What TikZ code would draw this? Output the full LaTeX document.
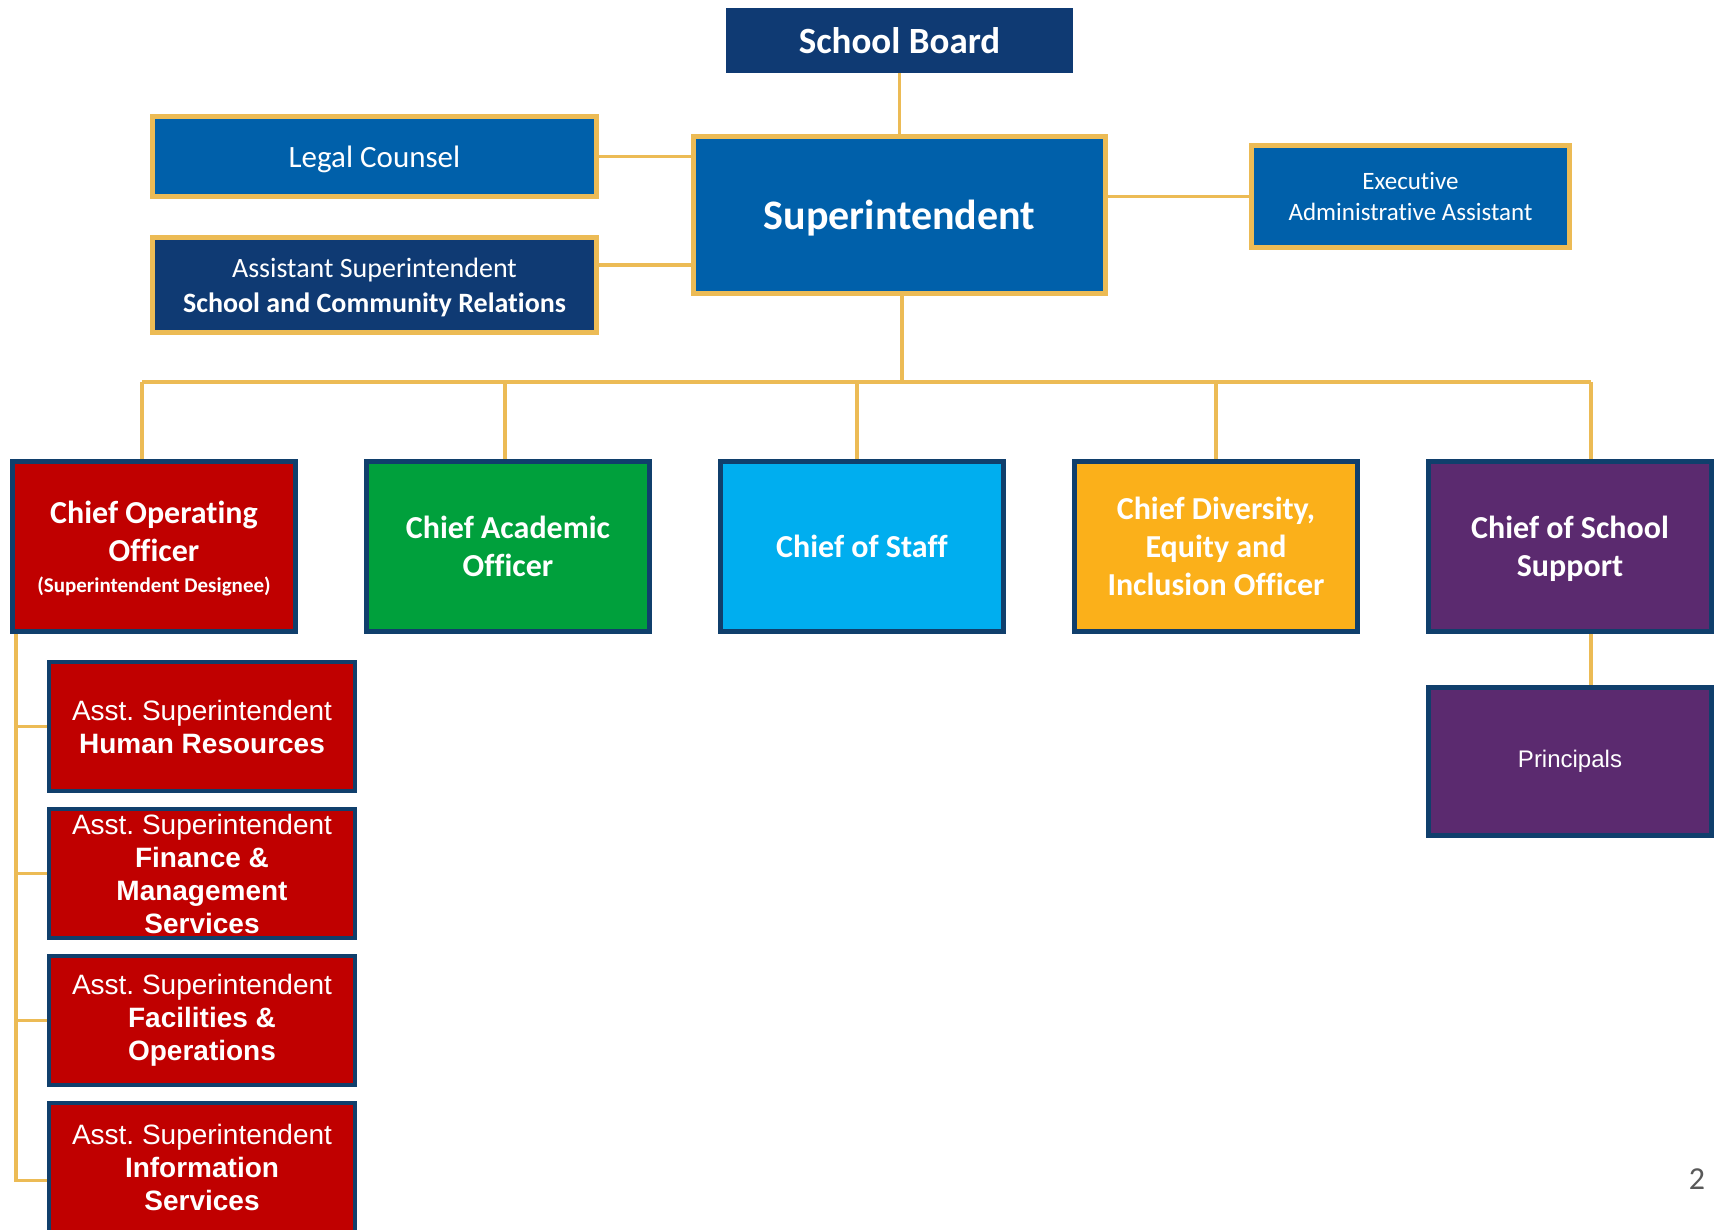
\documentclass[tikz,border=0pt]{standalone}
\usepackage{fontspec}
\setmainfont{Carlito}[Ligatures=NoCommon]
\newfontfamily\arialfont{Liberation Sans}
\usepackage{tikz}
\usetikzlibrary{positioning}
\definecolor{gold}{RGB}{236,187,85}
\definecolor{navy}{RGB}{15,58,115}
\definecolor{supblue}{RGB}{0,96,170}
\definecolor{boxnavy}{RGB}{16,63,108}
\definecolor{coored}{RGB}{192,0,0}
\definecolor{caogreen}{RGB}{0,160,60}
\definecolor{cosblue}{RGB}{0,174,239}
\definecolor{cdeiorange}{RGB}{251,176,26}
\definecolor{csspurple}{RGB}{91,42,111}
\newcommand{\fsize}[2]{\fontsize{#1}{#2}\selectfont}

\begin{document}
\begin{tikzpicture}[x=1pt, y=-1pt, node distance=14pt,
    topbox/.style={draw=gold, line width=5pt, text=white, align=center, inner sep=0pt},
    chiefbox/.style={draw=boxnavy, line width=5pt, text=white, align=center, inner sep=0pt,
      minimum width=283pt, minimum height=170pt, font=\fsize{32}{38}\bfseries},
    asstbox/.style={draw=boxnavy, fill=coored, line width=4pt, text=white, align=center, inner sep=0pt,
      minimum width=306pt, minimum height=129pt, font=\arialfont\fsize{28}{33}},
    link/.style={draw=gold, line width=3.5pt},
    elbow/.style={to path={|- (\tikztotarget)}}]
    \path [use as bounding box, clip] (0,0) rectangle (1717,1230) ;

    \node [topbox, draw=none, outer sep=0pt, fill=navy, minimum width=347pt, minimum height=65pt,
      font=\fsize{37}{44}\bfseries] (board) at (899.5,40.5) {School Board} ;
    \node [topbox, fill=supblue, minimum width=412pt, minimum height=157pt, text depth=0pt,
      font=\fsize{42}{50}\bfseries] (super) at (899.5,215) {Superintendent} ;
      \node [topbox, fill=supblue, minimum width=444pt, minimum height=80pt, text depth=0pt,
        font=\fsize{31}{37}] (legal) at (374.5,156.5) {Legal Counsel} ;
      \node [topbox, fill=navy, minimum width=444pt, minimum height=95pt, text depth=0pt,
        font=\fsize{28}{35}] (ascr) at (374.5,285) {
        Assistant Superintendent \\
        \textbf{School and Community Relations}
      } ;
      \node [topbox, fill=supblue, minimum width=318pt, minimum height=102pt,
        font=\fsize{25}{31}] (exec) at (1410.5,196.5) {
        Executive \\
        Administrative Assistant
      } ;

    \node [chiefbox, fill=coored, text depth=0pt] (coo) at (154,546.5) {
      Chief Operating \\
      Officer \\[-7pt]
      {\fsize{21}{25}(Superintendent Designee)}
    } ;
      \node [asstbox, below=26pt of coo, xshift=48pt] (hr) {
        Asst.\ Superintendent \\
        \textbf{Human Resources}
      } ;
      \node [asstbox, below=of hr] (finance) {
        Asst.\ Superintendent \\
        \textbf{Finance \&} \\
        \textbf{Management} \\
        \textbf{Services}
      } ;
      \node [asstbox, below=of finance] (facilities) {
        Asst.\ Superintendent \\
        \textbf{Facilities \&} \\
        \textbf{Operations}
      } ;
      \node [asstbox, below=of facilities] (info) {
        Asst.\ Superintendent \\
        \textbf{Information} \\
        \textbf{Services}
      } ;
    \node [chiefbox, fill=caogreen, right=66pt of coo] (cao) {Chief Academic \\ Officer} ;
    \node [chiefbox, fill=cosblue, right=66pt of cao] (cos) {Chief of Staff} ;
    \node [chiefbox, fill=cdeiorange, right=66pt of cos] (cdei) {
      Chief Diversity, \\
      Equity and \\
      Inclusion Officer
    } ;
    \node [chiefbox, fill=csspurple, right=66pt of cdei, text depth=0pt] (css) {Chief of School \\ Support} ;
      \node [chiefbox, fill=csspurple, below=51pt of css, minimum height=148pt,
        font=\arialfont\fsize{24}{29}] (principals) {Principals} ;

    \node [text=black!65, font=\fsize{32}{38}] (page) at (1697,1179) {2} ;

    \coordinate (bus) at (902,382) ;
    \coordinate (coojoin) at (142,382) ;
    \coordinate (caojoin) at (505,382) ;
    \coordinate (cosjoin) at (857,382) ;
    \coordinate (cdeijoin) at (1216,382) ;
    \coordinate (cssjoin) at (1591,382) ;
    \coordinate (ascrjoin) at ([yshift=20pt]ascr.east) ;
    \coordinate (trunk) at ([xshift=6pt]coo.south west) ;
    \coordinate (infojoin) at ([yshift=-13pt]info.west) ;

    \path [link] (board) edge (board |- super.north) ;
      \path [link] (legal.east) edge (legal.east -| super.west) ;
      \path [link] (ascrjoin) edge (ascrjoin -| super.west) ;
      \path [link] (exec.west) edge (exec.west -| super.east) ;
    \path [link] (bus |- super.south) edge (bus) ;
    \path [link] (coojoin) edge (cssjoin) ;
      \path [link] (coojoin) edge (coojoin |- coo.north) ;
      \path [link] (caojoin) edge (caojoin |- cao.north) ;
      \path [link] (cosjoin) edge (cosjoin |- cos.north) ;
      \path [link] (cdeijoin) edge (cdeijoin |- cdei.north) ;
      \path [link] (cssjoin) edge (cssjoin |- css.north) ;
      \path [link] (cssjoin |- css.south) edge (cssjoin |- principals.north) ;
    \path [link] (trunk) edge [elbow] (hr.west) ;
    \path [link] (trunk) edge [elbow] (finance.west) ;
    \path [link] (trunk) edge [elbow] (facilities.west) ;
    \path [link] (trunk) edge [elbow] (infojoin) ;
  \end{tikzpicture}
\end{document}
